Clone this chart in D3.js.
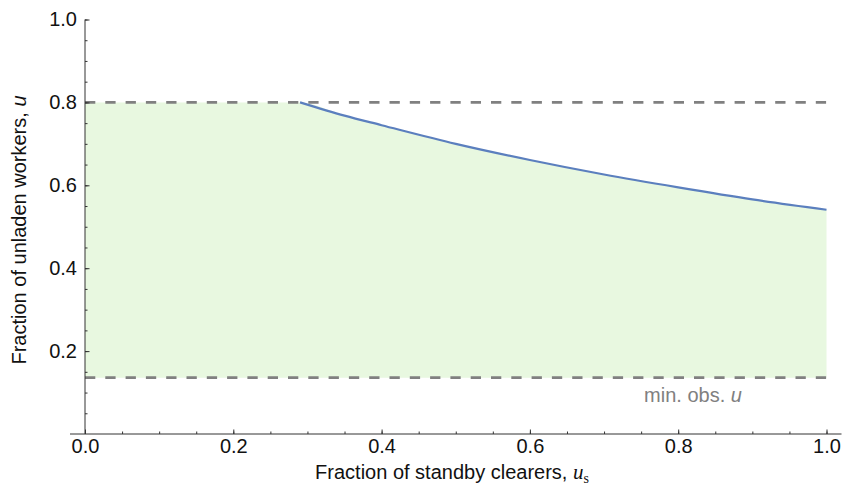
<!DOCTYPE html>
<html>
<head>
<meta charset="utf-8">
<script src="https://cdn.jsdelivr.net/npm/d3@7"></script>
<style>
  body { margin: 0; background: #fff; }
  svg { display: block; font-family: "Liberation Sans", Arial, sans-serif; }
</style>
</head>
<body>
<div id="chart"></div>
<script>
const W = 856, H = 493;

// boundary curve
const curveX = [0.29, 0.35, 0.4, 0.5, 0.6, 0.7, 0.8, 0.9, 1.0];
const curveU = [0.8, 0.768, 0.745, 0.700, 0.661, 0.626, 0.595, 0.566, 0.541];
const upperLimit = 0.8;
const minObsU = 0.136;
const majorTicks = [0, 0.2, 0.4, 0.6, 0.8, 1.0];
const yMajorTicks = [0.2, 0.4, 0.6, 0.8, 1.0];
const minorTicks = d3.range(0, 1.0001, 0.05);

const x = d3.scaleLinear().domain([0, 1]).range([85, 826.5]);
const y = d3.scaleLinear().domain([0, 1]).range([434, 19.5]);

const svg = d3.select("#chart")
    .append("svg")
    .attr("width", W)
    .attr("height", H);

// shaded feasible region: from min obs up to min(0.8, curve)
const areaPts = [[0, upperLimit]].concat(curveX.map((d, i) => [d, curveU[i]]));
svg.append("path")
    .datum(areaPts)
    .attr("fill", "#e8f8e0")
    .attr("d", d3.area()
        .x(d => x(d[0]))
        .y0(y(minObsU))
        .y1(d => y(d[1]))
        .curve(d3.curveMonotoneX));

// dashed reference lines
[upperLimit, minObsU].forEach(v => {
    svg.append("line")
        .attr("x1", x(0)).attr("x2", x(1))
        .attr("y1", y(v)).attr("y2", y(v))
        .attr("stroke", "#808080")
        .attr("stroke-width", 2.7)
        .attr("stroke-dasharray", "10.3,10");
});

// boundary curve
svg.append("path")
    .datum(curveX.map((d, i) => [d, curveU[i]]))
    .attr("fill", "none")
    .attr("stroke", "#5b7fbe")
    .attr("stroke-width", 2.2)
    .attr("d", d3.line()
        .x(d => x(d[0]))
        .y(d => y(d[1]))
        .curve(d3.curveMonotoneX));

// axes
const axisColor = "#333";

svg.append("line")
    .attr("x1", x(0) - 15).attr("x2", x(1) + 15)
    .attr("y1", y(0)).attr("y2", y(0))
    .attr("stroke", axisColor).attr("stroke-width", 1);
svg.append("line")
    .attr("x1", x(0)).attr("x2", x(0))
    .attr("y1", y(0)).attr("y2", y(1))
    .attr("stroke", axisColor).attr("stroke-width", 1);

const xMinor = svg.append("g")
    .attr("transform", `translate(0,${y(0)})`)
    .call(d3.axisBottom(x).tickValues(minorTicks).tickSize(-2.5).tickFormat(""));
const xMajor = svg.append("g")
    .attr("transform", `translate(0,${y(0)})`)
    .call(d3.axisBottom(x).tickValues(majorTicks).tickSize(-4.5).tickPadding(5)
        .tickFormat(d3.format(".1f")));

const yMinor = svg.append("g")
    .attr("transform", `translate(${x(0)},0)`)
    .call(d3.axisLeft(y).tickValues(minorTicks.filter(d => d > 0)).tickSize(-2.5).tickFormat(""));
const yMajor = svg.append("g")
    .attr("transform", `translate(${x(0)},0)`)
    .call(d3.axisLeft(y).tickValues(yMajorTicks).tickSize(-4.5).tickPadding(8)
        .tickFormat(d3.format(".1f")));

[xMinor, xMajor, yMinor, yMajor].forEach(g => {
    g.select(".domain").remove();
    g.selectAll(".tick line").attr("stroke", axisColor);
    g.selectAll("text")
        .attr("font-family", "'Liberation Sans', Arial, sans-serif")
        .attr("font-size", 20)
        .attr("fill", "#111");
});

// axis titles
svg.append("text")
    .attr("x", 452).attr("y", 479)
    .attr("text-anchor", "middle")
    .attr("font-size", 20)
    .attr("fill", "#111")
    .html('Fraction of standby clearers, <tspan font-style="italic" font-family="\'Liberation Serif\', serif" font-size="21">u</tspan><tspan font-family="\'Liberation Serif\', serif" font-size="14" dy="4">s</tspan>');

svg.append("text")
    .attr("transform", "translate(26,230) rotate(-90)")
    .attr("text-anchor", "middle")
    .attr("font-size", 20)
    .attr("fill", "#111")
    .html('Fraction of unladen workers, <tspan font-style="italic">u</tspan>');

svg.append("text")
    .attr("x", 693).attr("y", 402)
    .attr("text-anchor", "middle")
    .attr("font-size", 20)
    .attr("fill", "#808080")
    .html('min. obs. <tspan font-style="italic">u</tspan>');
</script>
</body>
</html>
